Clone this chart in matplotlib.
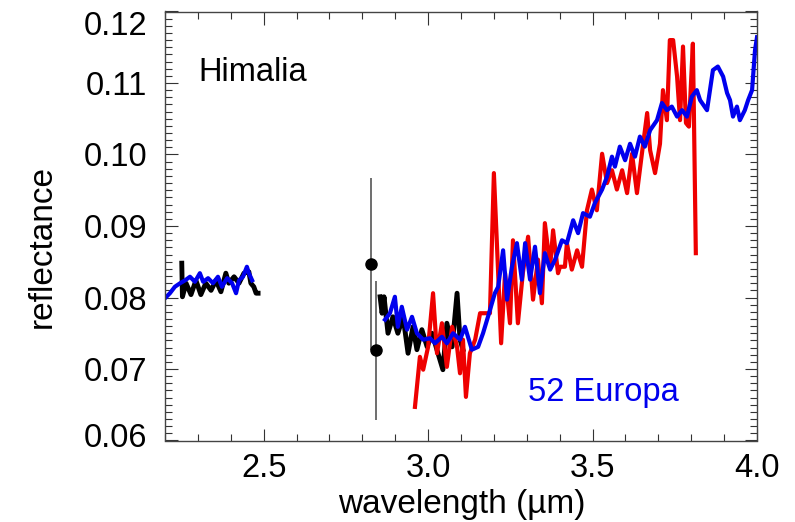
import numpy as np
import matplotlib
matplotlib.use('Agg')
import matplotlib.pyplot as plt
import matplotlib.transforms as mtransforms
from matplotlib.ticker import MultipleLocator

plt.rcParams['font.family'] = ['Liberation Sans', 'DejaVu Sans']

# Himalia, short-wavelength part
him1_x = [2.251, 2.253, 2.264, 2.279, 2.294, 2.309, 2.324, 2.340, 2.355, 2.370, 2.385,
          2.394, 2.410, 2.425, 2.440, 2.455, 2.461, 2.470, 2.477, 2.483]
him1_y = [0.0848, 0.0801, 0.0820, 0.0804, 0.0824, 0.0804, 0.0820, 0.0810, 0.0824, 0.0808,
          0.0834, 0.0820, 0.0829, 0.0820, 0.0834, 0.0836, 0.0820, 0.0815, 0.0806, 0.0806]

# Himalia, 3 um region
him2_x = [2.854, 2.860, 2.866, 2.878, 2.893, 2.908, 2.924, 2.939, 2.954, 2.966, 2.981,
          2.997, 3.012, 3.030, 3.045, 3.057, 3.073, 3.088, 3.097, 3.106]
him2_y = [0.0801, 0.0778, 0.0801, 0.0750, 0.0773, 0.0750, 0.0773, 0.0722, 0.0759, 0.0727,
          0.0755, 0.0731, 0.0750, 0.0722, 0.0699, 0.0764, 0.0731, 0.0806, 0.0741, 0.0727]

# Himalia points with error bars
pts_x = [2.826, 2.842]
pts_y = [0.0847, 0.0726]
pts_err = [0.0120, 0.0097]

# Himalia, long-wavelength part (red)
red_x = [2.960, 2.975, 2.985, 3.000, 3.015, 3.027, 3.042, 3.057, 3.073, 3.088, 3.097,
         3.106, 3.115, 3.127, 3.143, 3.158, 3.173, 3.188, 3.200, 3.213, 3.222, 3.234,
         3.249, 3.258, 3.273, 3.288, 3.304, 3.319, 3.334, 3.346, 3.355, 3.371, 3.380,
         3.395, 3.401, 3.416, 3.422, 3.437, 3.453, 3.468, 3.483, 3.498, 3.513, 3.529,
         3.544, 3.559, 3.574, 3.590, 3.605, 3.620, 3.635, 3.650, 3.666, 3.675, 3.690,
         3.705, 3.714, 3.726, 3.735, 3.745, 3.757, 3.766, 3.775, 3.784, 3.793, 3.805,
         3.808, 3.814]
red_y = [0.0647, 0.0717, 0.0699, 0.0731, 0.0806, 0.0722, 0.0764, 0.0703, 0.0759, 0.0731,
         0.0694, 0.0741, 0.0661, 0.0722, 0.0741, 0.0778, 0.0778, 0.0778, 0.0974, 0.0834,
         0.0736, 0.0834, 0.0764, 0.0880, 0.0764, 0.0834, 0.0885, 0.0797, 0.0853, 0.0792,
         0.0904, 0.0843, 0.0894, 0.0834, 0.0843, 0.0843, 0.0876, 0.0839, 0.0866, 0.0843,
         0.0922, 0.0951, 0.0922, 0.1001, 0.0960, 0.0978, 0.0951, 0.0978, 0.0946, 0.1001,
         0.0946, 0.1001, 0.1058, 0.1006, 0.0974, 0.1015, 0.1090, 0.1048, 0.1160, 0.1160,
         0.1109, 0.1048, 0.1151, 0.1044, 0.1039, 0.1155, 0.1062, 0.0862]

# 52 Europa
eur1_x = [2.200, 2.215, 2.230, 2.246, 2.261, 2.276, 2.291, 2.306, 2.316, 2.331, 2.346,
          2.361, 2.373, 2.389, 2.404, 2.416, 2.425, 2.437, 2.449, 2.455, 2.465]
eur1_y = [0.0799, 0.0806, 0.0815, 0.0820, 0.0824, 0.0829, 0.0822, 0.0834, 0.0822, 0.0827,
          0.0820, 0.0829, 0.0815, 0.0827, 0.0820, 0.0806, 0.0824, 0.0829, 0.0843, 0.0834,
          0.0824]

eur2_x = [2.869, 2.884, 2.899, 2.908, 2.920, 2.936, 2.951, 2.966, 2.985, 3.006, 3.021,
          3.042, 3.057, 3.076, 3.097, 3.112, 3.133, 3.152, 3.167, 3.182, 3.203, 3.213,
          3.228, 3.240, 3.255, 3.270, 3.285, 3.295, 3.310, 3.325, 3.340, 3.355, 3.371,
          3.386, 3.407, 3.422, 3.441, 3.456, 3.471, 3.492, 3.507, 3.529, 3.544, 3.559,
          3.568, 3.583, 3.599, 3.614, 3.629, 3.644, 3.659, 3.675, 3.696, 3.711, 3.726,
          3.741, 3.757, 3.772, 3.787, 3.802, 3.817, 3.827, 3.848, 3.866, 3.881, 3.897,
          3.909, 3.918, 3.927, 3.939, 3.948, 3.963, 3.973, 3.985, 3.994, 4.000]
eur2_y = [0.0769, 0.0778, 0.0801, 0.0759, 0.0787, 0.0755, 0.0773, 0.0750, 0.0741, 0.0743,
          0.0736, 0.0745, 0.0736, 0.0750, 0.0741, 0.0759, 0.0727, 0.0731, 0.0750, 0.0773,
          0.0806, 0.0815, 0.0866, 0.0797, 0.0843, 0.0876, 0.0825, 0.0876, 0.0825, 0.0871,
          0.0806, 0.0862, 0.0839, 0.0853, 0.0880, 0.0876, 0.0908, 0.0890, 0.0918, 0.0913,
          0.0932, 0.0951, 0.0969, 0.0997, 0.0983, 0.1011, 0.0992, 0.1015, 0.0997, 0.1025,
          0.1011, 0.1034, 0.1048, 0.1072, 0.1062, 0.1067, 0.1053, 0.1062, 0.1053, 0.1081,
          0.1090, 0.1076, 0.1062, 0.1118, 0.1123, 0.1109, 0.1086, 0.1076, 0.1053, 0.1067,
          0.1048, 0.1062, 0.1076, 0.1090, 0.1146, 0.1164]

fig = plt.figure(figsize=(7.95, 5.22), dpi=100)
ax = fig.add_axes([165/795, 1 - 440.5/522, 592/795, 429/522])

ax.plot(him1_x, him1_y, color='black', lw=3.5)
ax.plot(him2_x, him2_y, color='black', lw=3.5)
ax.plot(red_x, red_y, color='#ee0000', lw=3.0)
ax.plot(eur1_x, eur1_y, color='#0000ee', lw=3.0)
ax.plot(eur2_x, eur2_y, color='#0000ee', lw=3.0)
ax.errorbar(pts_x, pts_y, yerr=pts_err, fmt='o', color='black', ms=8,
            ecolor='#555555', elinewidth=1.2, capsize=0)

ax.set_xlim(2.2, 4.0)
ax.set_ylim(0.06, 0.12)
ax.xaxis.set_major_locator(MultipleLocator(0.5))
ax.xaxis.set_minor_locator(MultipleLocator(0.1))
ax.yaxis.set_major_locator(MultipleLocator(0.01))
ax.yaxis.set_minor_locator(MultipleLocator(0.001))
ax.xaxis.set_major_formatter(plt.FormatStrFormatter('%.1f'))
ax.yaxis.set_major_formatter(plt.FormatStrFormatter('%.2f'))
ax.tick_params(which='both', direction='in', top=True, right=True,
               labelsize=23.5, color='#333333', width=0.8)
ax.tick_params(which='major', length=9)
ax.tick_params(which='minor', length=5)
ax.tick_params(axis='y', pad=13)
ax.tick_params(axis='x', pad=9)
for s in ax.spines.values():
    s.set_color('#444444')
    s.set_linewidth(1.0)

ax.text(0.056, 0.857, 'Himalia', transform=ax.transAxes, fontsize=23.5,
        ha='left', va='center', color='black')
ax.text(0.613, 0.111, '52 Europa', transform=ax.transAxes, fontsize=23.5,
        ha='left', va='center', color='#0000ee')

fig.text(42/795, 1 - 246/522, 'reflectance', rotation=90, fontsize=24,
         ha='center', va='center')
fig.text(462/795, 1 - 505/522, 'wavelength (µm)', fontsize=24,
         ha='center', va='center')

# end labels of the y axis sit inside the frame, as in the original
fig.canvas.draw()
locs = list(ax.get_yticks())
for loc, t in zip(locs, ax.yaxis.get_major_ticks()):
    if abs(loc - 0.12) < 1e-6:
        d = -12
    elif abs(loc - 0.06) < 1e-6:
        d = 5
    else:
        continue
    off = mtransforms.ScaledTranslation(0, d/100, fig.dpi_scale_trans)
    t.label1.set_transform(t.label1.get_transform() + off)

fig.savefig('out.png', dpi=100)
